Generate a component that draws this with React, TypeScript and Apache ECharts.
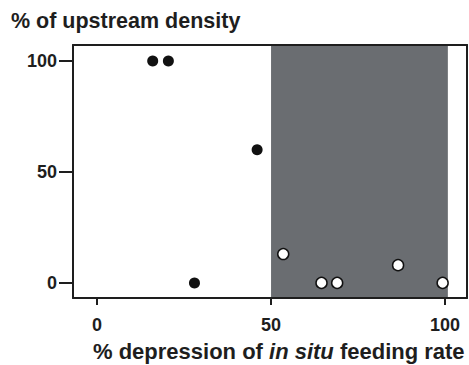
import React, { useEffect, useRef } from "react";
import * as echarts from "echarts";

const blackX = [16, 20.5, 28, 46];
const blackY = [100, 100, 0, 60];
const whiteX = [53.5, 64.5, 69, 86.5, 99.3];
const whiteY = [13, 0, 0, 8, 0];
const xTicks = [0, 50, 100];
const yTicks = [0, 50, 100];
const shadedRange = [50, 100.8];

const FONT = "'Liberation Sans', Arial, sans-serif";
const INK = "#1e1e1e";

export default function App() {
  const ref = useRef<HTMLDivElement>(null);
  useEffect(() => {
    if (!ref.current) return;
    const chart = echarts.init(ref.current, undefined, { renderer: "svg" });
    const axisBase = {
      axisLine: { show: true, onZero: false, lineStyle: { color: INK, width: 2 } },
      splitLine: { show: false },
      z: 10,
    };
    chart.setOption({
      animation: false,
      backgroundColor: "#ffffff",
      grid: { left: 73, right: 2, top: 45, bottom: 67 },
      xAxis: [
        {
          ...axisBase,
          type: "value",
          position: "bottom",
          min: -6.9,
          max: 106.3,
          axisTick: { show: true, customValues: xTicks, length: 7, lineStyle: { color: INK, width: 2 } },
          axisLabel: {
            customValues: xTicks,
            margin: 18,
            fontFamily: FONT,
            fontWeight: "bold",
            fontSize: 18,
            color: INK,
          },
        },
        {
          ...axisBase,
          type: "value",
          position: "top",
          min: -6.9,
          max: 106.3,
          axisTick: { show: false },
          axisLabel: { show: false },
        },
      ],
      yAxis: [
        {
          ...axisBase,
          type: "value",
          position: "left",
          min: -6.8,
          max: 107.2,
          axisTick: { show: true, customValues: yTicks, length: 14, lineStyle: { color: INK, width: 2 } },
          axisLabel: {
            customValues: yTicks,
            margin: 16,
            fontFamily: FONT,
            fontWeight: "bold",
            fontSize: 18,
            color: INK,
          },
        },
        {
          ...axisBase,
          type: "value",
          position: "right",
          min: -6.8,
          max: 107.2,
          axisTick: { show: false },
          axisLabel: { show: false },
        },
      ],
      series: [
        {
          type: "scatter",
          data: [],
          markArea: {
            silent: true,
            itemStyle: { color: "#6a6d71", opacity: 1 },
            data: [[{ xAxis: shadedRange[0] }, { xAxis: shadedRange[1] }]],
          },
          z: 1,
        },
        {
          type: "scatter",
          data: blackX.map((x, i) => [x, blackY[i]]),
          symbolSize: 11,
          itemStyle: { color: "#111111", opacity: 1 },
          z: 3,
        },
        {
          type: "scatter",
          data: whiteX.map((x, i) => [x, whiteY[i]]),
          symbolSize: 11,
          itemStyle: { color: "#ffffff", borderColor: "#111111", borderWidth: 1.5, opacity: 1 },
          z: 3,
        },
      ],
      graphic: [
        {
          type: "text",
          left: 11,
          top: 10,
          style: {
            text: "% of upstream density",
            font: `bold 21.5px ${FONT}`,
            fill: INK,
          },
        },
        {
          type: "text",
          left: 93,
          top: 340,
          style: {
            text: "{a|% depression of }{b|in situ}{a| feeding rate}",
            fill: INK,
            rich: {
              a: { fontFamily: FONT, fontWeight: "bold", fontSize: 22, fill: INK },
              b: { fontFamily: FONT, fontWeight: "bold", fontStyle: "italic", fontSize: 22, fill: INK },
            },
          },
        },
      ],
    });
    return () => chart.dispose();
  }, []);
  return <div ref={ref} style={{ width: 469, height: 365, position: "absolute", left: 0, top: 0 }} />;
}
